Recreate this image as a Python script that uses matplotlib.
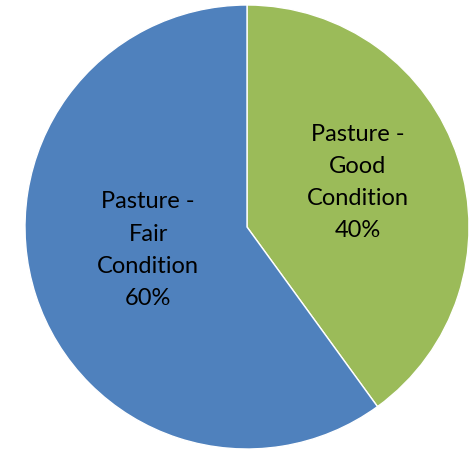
import matplotlib
matplotlib.use('agg')
import matplotlib.pyplot as plt

# data
categories = ["Pasture -\nGood\nCondition", "Pasture -\nFair\nCondition"]
shares = [40, 60]
colors = ["#9BBB59", "#4F81BD"]
label_pos = [(0.50, 0.20), (-0.445, -0.105)]

plt.rcParams['font.family'] = ['Lato', 'DejaVu Sans']

fig = plt.figure(figsize=(4.71, 4.51), dpi=100)
ax = fig.add_axes([25 / 471, 2 / 451, 444 / 471, 444 / 451])

ax.pie(shares, colors=colors, startangle=90, counterclock=False,
       wedgeprops=dict(edgecolor='white', linewidth=1), radius=1.0)

for name, val, (x, y) in zip(categories, shares, label_pos):
    ax.text(x, y, f"{name}\n{val}%", ha='center', va='center',
            fontsize=17, linespacing=1.66, color='black')

ax.set_xlim(-1, 1)
ax.set_ylim(-1, 1)
ax.set_aspect('equal')
ax.axis('off')

plt.savefig("out.png", dpi=100)
